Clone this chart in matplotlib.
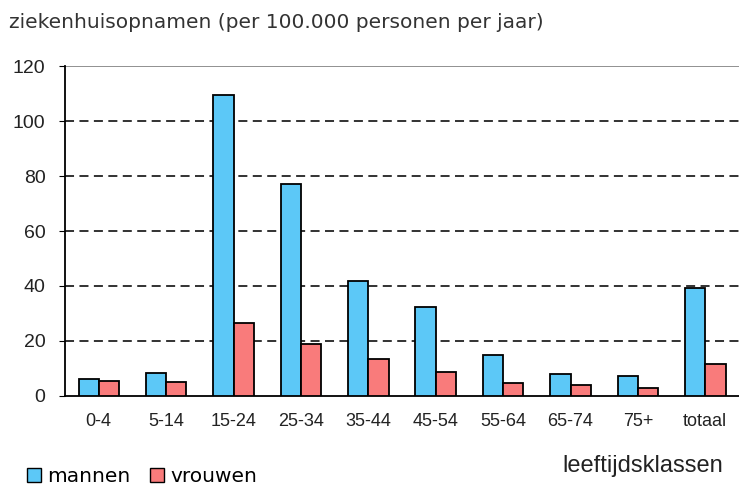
import matplotlib.pyplot as plt
from matplotlib.patches import Patch
import numpy as np

plt.rcParams['font.family'] = ['Liberation Sans', 'DejaVu Sans']

klassen = ['0-4', '5-14', '15-24', '25-34', '35-44', '45-54', '55-64', '65-74', '75+', 'totaal']
mannen = [6.2, 8.4, 109.5, 77.2, 41.8, 32.5, 14.8, 8.0, 7.3, 39.2]
vrouwen = [5.6, 5.0, 26.5, 19.0, 13.6, 8.7, 4.7, 4.0, 2.8, 11.5]

blauw = '#5cc8f7'
rood = '#f97b7b'

fig = plt.figure(figsize=(7.39, 4.90), dpi=100)
ax = fig.add_axes([0.088, 0.192, 0.912, 0.673])

x = np.arange(len(klassen))
w = 0.3
ax.bar(x - w / 2, mannen, w, color=blauw, edgecolor='black', linewidth=1.3, zorder=3)
ax.bar(x + w / 2, vrouwen, w, color=rood, edgecolor='black', linewidth=1.3, zorder=3)

ax.set_xlim(-0.5, len(klassen) - 0.5)
ax.set_ylim(0, 120)
ax.set_yticks(range(0, 121, 20))
ax.set_xticks(x)
ax.set_xticklabels(klassen)
ax.tick_params(axis='x', length=0, labelsize=13, pad=12, colors='#222222')
ax.tick_params(axis='y', length=4, direction='out', labelsize=14, pad=10, colors='#222222')
ax.tick_params(axis='y', color='black')

for v in range(20, 101, 20):
    ax.axhline(v, color='#222222', linestyle=(0, (5, 3)), linewidth=1.3, zorder=1)
ax.axhline(120, color='#888888', linewidth=1.3, zorder=1)

for s in ['top', 'right']:
    ax.spines[s].set_visible(False)
ax.spines['left'].set_linewidth(1.3)
ax.spines['bottom'].set_linewidth(1.3)

fig.text(0.012, 0.955, 'ziekenhuisopnamen (per 100.000 personen per jaar)',
         fontsize=14.5, color='#333333', va='center', ha='left', family='DejaVu Sans')
fig.text(0.979, 0.05, 'leeftijdsklassen', fontsize=17, color='#222222', ha='right', va='center')

handles = [Patch(facecolor=blauw, edgecolor='black', linewidth=1),
           Patch(facecolor=rood, edgecolor='black', linewidth=1)]
fig.legend(handles, ['mannen', 'vrouwen'], loc='lower left', bbox_to_anchor=(0.02, -0.016),
           ncol=2, frameon=False, prop={'family': 'DejaVu Sans', 'size': 14.5},
           handlelength=0.7, handleheight=0.7, handletextpad=0.3, columnspacing=1.0,
           borderaxespad=0.2)

fig.savefig('out.png', dpi=100)
